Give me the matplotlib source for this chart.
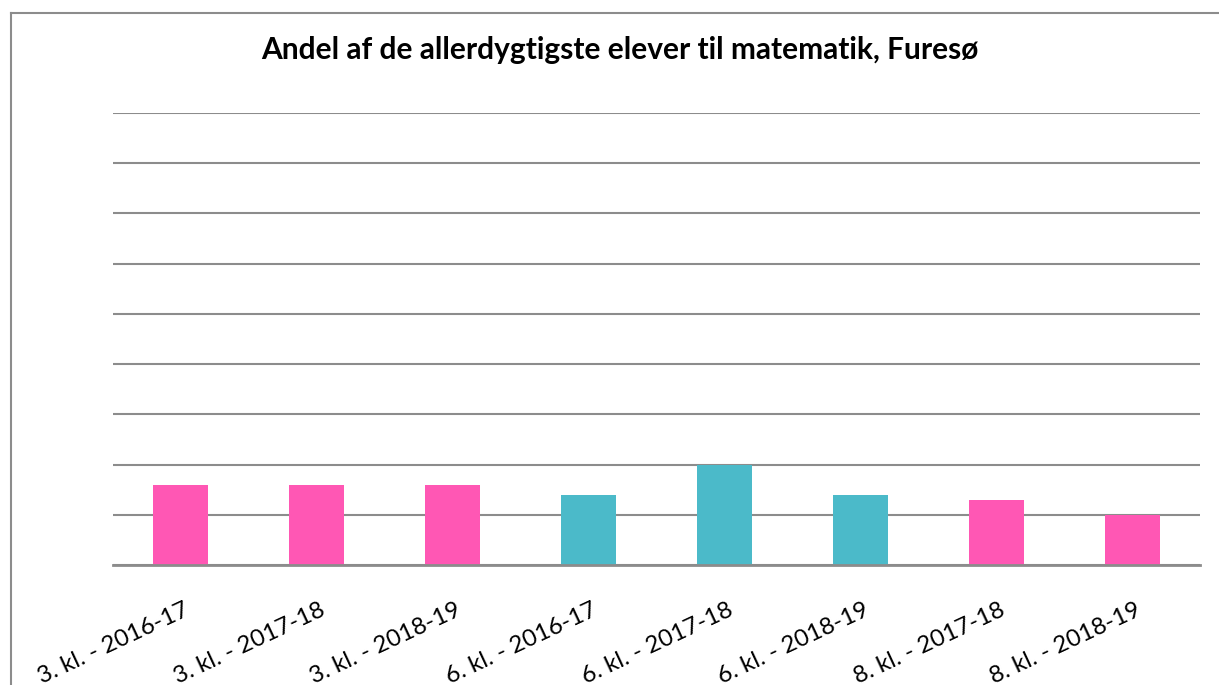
import matplotlib.pyplot as plt
import matplotlib.transforms as mtrans
from matplotlib.lines import Line2D

plt.rcParams["font.family"] = ["Lato", "DejaVu Sans"]

categories = ["3. kl. - 2016-17", "3. kl. - 2017-18", "3. kl. - 2018-19",
              "6. kl. - 2016-17", "6. kl. - 2017-18", "6. kl. - 2018-19",
              "8. kl. - 2017-18", "8. kl. - 2018-19"]
values = [1.6, 1.6, 1.6, 1.4, 2.0, 1.4, 1.3, 1.0]
grades = ["3", "3", "3", "6", "6", "6", "8", "8"]

PINK = "#ff57b4"
TEAL = "#4bbac9"
GRID = "#8c8c8c"
grade_colors = {"3": PINK, "6": TEAL, "8": PINK}

W, H = 1219, 685
fig = plt.figure(figsize=(W / 100, H / 100), dpi=100)
ax = fig.add_axes([113 / W, 1 - 565 / H, (1200 - 113) / W, (565 - 113) / H])

x = range(len(categories))
ax.bar(x, values, width=0.405, color=[grade_colors[g] for g in grades], zorder=3)

ax.set_xlim(-0.5, len(categories) - 0.5)
ax.set_ylim(0, 9)
ax.set_yticks(range(0, 10))
ax.set_yticklabels([])
ax.tick_params(axis="y", length=0)
ax.tick_params(axis="x", length=0, pad=25)
ax.set_xticks(list(x))
ax.set_xticklabels(categories, rotation=25, ha="right", rotation_mode="anchor",
                   fontsize=17, color="black")

# size the labels so one label is about 164 px long, like the original
r = fig.canvas.get_renderer()
lbl0 = ax.get_xticklabels()[0]
lbl0.set_rotation(0)
w0 = lbl0.get_window_extent(r).width
lbl0.set_rotation(25)
fs = 17 * 164 / w0
offset = mtrans.ScaledTranslation(0.03, 0, fig.dpi_scale_trans)
for lbl in ax.get_xticklabels():
    lbl.set_fontsize(fs)
    lbl.set_transform(lbl.get_transform() + offset)

ax.grid(axis="y", color=GRID, linewidth=1.5, zorder=0)
for side in ["top", "right", "left"]:
    ax.spines[side].set_visible(False)
ax.spines["bottom"].set_color(GRID)
ax.spines["bottom"].set_linewidth(2)
ax.spines["bottom"].set_zorder(4)

fig.text(620 / W, 1 - 50 / H, "Andel af de allerdygtigste elever til matematik, Furesø",
         ha="center", va="center", fontsize=21.5, fontweight="bold")

# chart area border
fig.add_artist(Line2D([10.5 / W, 10.5 / W], [0, 1 - 13 / H], color=GRID,
                      linewidth=1.5, transform=fig.transFigure))
fig.add_artist(Line2D([10.5 / W, 1], [1 - 13 / H, 1 - 13 / H], color=GRID,
                      linewidth=1.5, transform=fig.transFigure))

fig.savefig("out.png", dpi=100, facecolor="white")
